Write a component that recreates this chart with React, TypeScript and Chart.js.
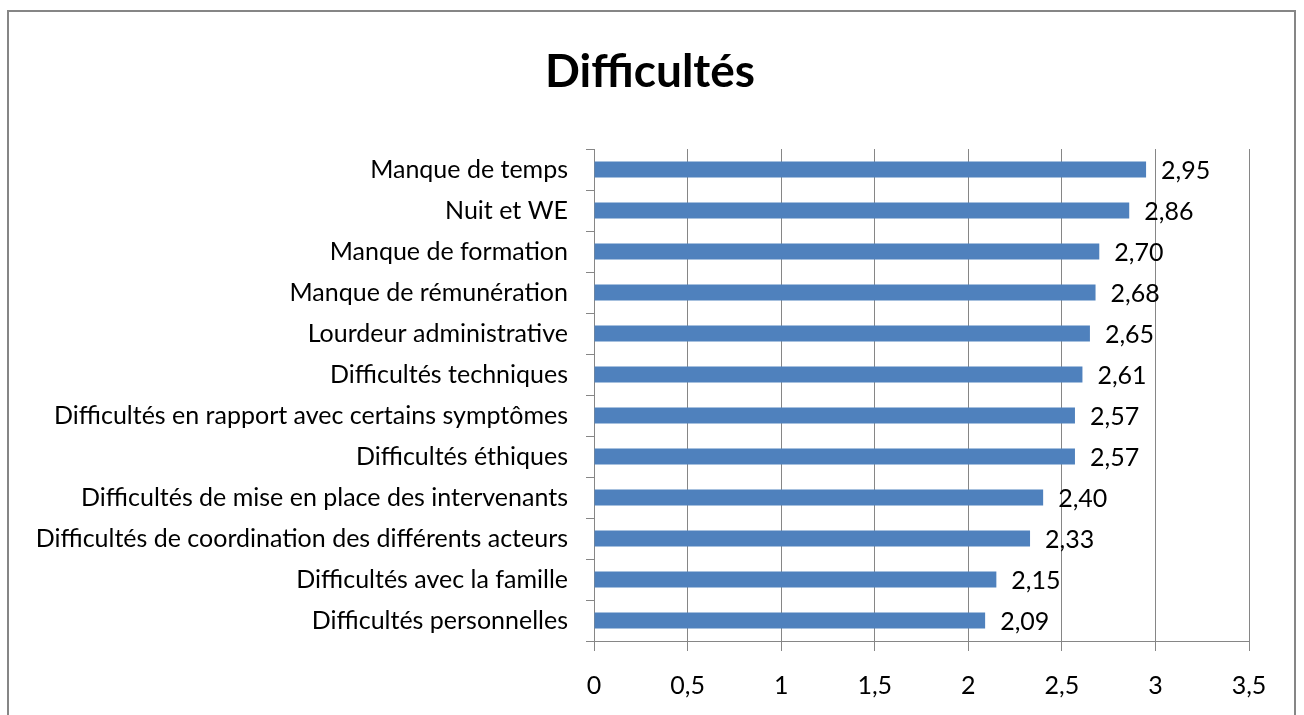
import React, { useEffect, useRef } from "react";
import { Chart, registerables } from "chart.js";

Chart.register(...registerables);

const TITLE = "Difficultés";
const categories = [
  "Manque de temps",
  "Nuit et WE",
  "Manque de formation",
  "Manque de rémunération",
  "Lourdeur administrative",
  "Difficultés techniques",
  "Difficultés en rapport avec certains symptômes",
  "Difficultés éthiques",
  "Difficultés de mise en place des intervenants",
  "Difficultés de coordination des différents acteurs",
  "Difficultés avec la famille",
  "Difficultés personnelles",
];
const values = [2.95, 2.86, 2.7, 2.68, 2.65, 2.61, 2.57, 2.57, 2.4, 2.33, 2.15, 2.09];
const xMin = 0;
const xMax = 3.5;
const xStep = 0.5;

const FONT = "Lato, 'Open Sans', sans-serif";
const fmt = (v: number) => String(v).replace(".", ",");

const valueLabels = {
  id: "valueLabels",
  afterDatasetsDraw(chart: any) {
    const ctx = chart.ctx;
    const meta = chart.getDatasetMeta(0);
    ctx.save();
    ctx.font = `25px ${FONT}`;
    ctx.fillStyle = "#000";
    ctx.textAlign = "left";
    ctx.textBaseline = "middle";
    meta.data.forEach((bar: any, i: number) => {
      ctx.fillText(values[i].toFixed(2).replace(".", ","), bar.x + 15, bar.y + 1);
    });
    ctx.restore();
  },
};

const titlePlugin = {
  id: "titleText",
  afterDraw(chart: any) {
    const ctx = chart.ctx;
    ctx.save();
    ctx.font = `bold 46px ${FONT}`;
    ctx.fillStyle = "#000";
    ctx.textAlign = "center";
    ctx.textBaseline = "alphabetic";
    ctx.fillText(TITLE, 650, 87);
    ctx.restore();
  },
};

export default function App() {
  const ref = useRef<HTMLCanvasElement>(null);
  useEffect(() => {
    if (!ref.current) return;
    const chart = new Chart(ref.current, {
      type: "bar",
      data: {
        labels: categories,
        datasets: [
          {
            data: values,
            backgroundColor: "#4F81BD",
            borderColor: "#4F81BD",
            borderWidth: 0,
            barPercentage: 0.39,
            categoryPercentage: 1,
          },
        ],
      },
      plugins: [valueLabels, titlePlugin],
      options: {
        indexAxis: "y",
        animation: false,
        responsive: false,
        maintainAspectRatio: false,
        layout: { padding: { left: 0, right: 55, top: 149, bottom: 0 } },
        plugins: {
          legend: { display: false },
          tooltip: { enabled: false },
          title: { display: false },
        },
        scales: {
          x: {
            min: xMin,
            max: xMax,
            afterFit: (s: any) => {
              s.height = 74;
            },
            ticks: {
              stepSize: xStep,
              color: "#000",
              font: { family: FONT, size: 25 },
              padding: 20,
              callback: (v: any) => fmt(Number(v)),
            },
            grid: { color: "#868686", lineWidth: 1, tickLength: 10, drawTicks: true },
            border: { color: "#868686", width: 1 },
          },
          y: {
            afterFit: (s: any) => {
              s.width = 594;
            },
            ticks: {
              color: "#000",
              font: { family: FONT, size: 25 },
              padding: 18,
            },
            grid: { display: true, drawOnChartArea: false, color: "#868686", tickLength: 8, offset: true },
            border: { color: "#868686", width: 1 },
          },
        },
      },
    });
    return () => chart.destroy();
  }, []);

  return (
    <div style={{ position: "fixed", left: 0, top: 0, width: 1304, height: 715, background: "#fff", overflow: "hidden" }}>
      <div
        style={{
          position: "absolute",
          left: 7,
          top: 10,
          width: 1289,
          height: 720,
          border: "2px solid #868686",
          boxSizing: "border-box",
        }}
      />
      <canvas ref={ref} width={1304} height={715} style={{ position: "absolute", left: 0, top: 0 }} />
    </div>
  );
}
